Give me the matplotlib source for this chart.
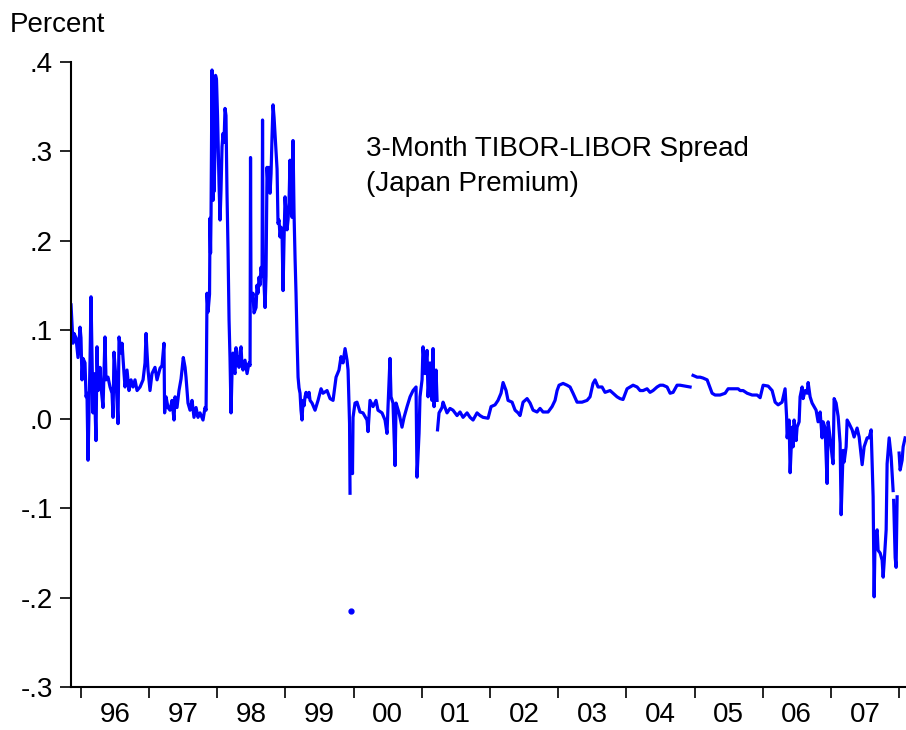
import numpy as np
import matplotlib
matplotlib.use("Agg")
import matplotlib.pyplot as plt

plt.rcParams['font.family'] = ['Liberation Sans', 'DejaVu Sans']

################################################################################
# 3-month TIBOR-LIBOR spread (decimal years, percent)
# nan marks a break in the series
nan = np.nan
dates = [
    1995.858, 1995.887, 1995.902, 1995.931, 1995.960, 1995.990, 1996.004, 1996.019,
    1996.034, 1996.063, 1996.078, 1996.092, 1996.107, 1996.136, 1996.151, 1996.180,
    1996.195, 1996.224, 1996.239, 1996.254, 1996.283, 1996.298, 1996.327, 1996.356,
    1996.371, 1996.400, 1996.430, 1996.459, 1996.474, 1996.488, 1996.518, 1996.547,
    1996.562, 1996.591, 1996.606, 1996.635, 1996.650, 1996.679, 1996.708, 1996.738,
    1996.767, 1996.796, 1996.826, 1996.870, 1996.914, 1996.943, 1996.958, 1996.972,
    1996.987, 1997.016, 1997.045, 1997.089, 1997.119, 1997.163, 1997.192, 1997.221,
    1997.230, 1997.251, 1997.280, 1997.309, 1997.339, 1997.368, 1997.383, 1997.412,
    1997.441, 1997.471, 1997.504, 1997.530, 1997.544, 1997.573, 1997.603, 1997.632,
    1997.661, 1997.691, 1997.720, 1997.749, 1997.793, 1997.823, 1997.838, 1997.852,
    1997.867, 1997.889, 1997.896, 1997.904, 1997.911, 1997.925, 1997.933, 1997.940,
    1997.948, 1997.955, 1997.969, 1997.977, 1997.991, 1998.006, 1998.020, 1998.028,
    1998.043, 1998.057, 1998.072, 1998.087, 1998.101, 1998.116, 1998.130, 1998.145,
    1998.160, 1998.175, 1998.189, 1998.204, 1998.218, 1998.233, 1998.248, 1998.263,
    1998.277, 1998.292, 1998.307, 1998.321, 1998.336, 1998.351, 1998.365, 1998.380,
    1998.409, 1998.439, 1998.468, 1998.483, 1998.490, 1998.497, 1998.512, 1998.526,
    1998.541, 1998.571, 1998.585, 1998.600, 1998.615, 1998.629, 1998.644, 1998.659,
    1998.666, 1998.673, 1998.688, 1998.703, 1998.717, 1998.732, 1998.747, 1998.761,
    1998.776, 1998.791, 1998.805, 1998.820, 1998.835, 1998.849, 1998.864, 1998.879,
    1998.893, 1998.908, 1998.923, 1998.937, 1998.952, 1998.967, 1998.981, 1998.996,
    1999.010, 1999.025, 1999.040, 1999.054, 1999.069, 1999.084, 1999.099, 1999.113,
    1999.128, 1999.143, 1999.157, 1999.172, 1999.187, 1999.201, 1999.216, 1999.230,
    1999.245, 1999.260, 1999.275, 1999.289, 1999.304, 1999.319, 1999.333, 1999.348,
    1999.363, 1999.392, 1999.436, 1999.480, 1999.524, 1999.553, 1999.612, 1999.656,
    1999.700, 1999.744, 1999.787, 1999.817, 1999.846, 1999.876, 1999.905, 1999.920,
    1999.942, 1999.949, 1999.956, 1999.964, 1999.971, 1999.978, 1999.985, 1999.993,
    2000.022, 2000.051, 2000.095, 2000.139, 2000.198, 2000.213, 2000.242, 2000.286,
    2000.330, 2000.359, 2000.418, 2000.462, 2000.491, 2000.506, 2000.535, 2000.550,
    2000.579, 2000.609, 2000.624, 2000.667, 2000.711, 2000.741, 2000.785, 2000.829,
    2000.873, 2000.917, 2000.931, 2000.961, 2000.975, 2001.005, 2001.019, 2001.049,
    2001.078, 2001.093, 2001.122, 2001.151, 2001.166, 2001.181, 2001.210, 2001.225,
    2001.228, 2001.232, 2001.254, 2001.298, 2001.313, 2001.371, 2001.415, 2001.459,
    2001.518, 2001.562, 2001.606, 2001.665, 2001.709, 2001.753, 2001.811, 2001.855,
    2001.899, 2001.973, 2002.017, 2002.075, 2002.119, 2002.163, 2002.193, 2002.237,
    2002.266, 2002.325, 2002.369, 2002.413, 2002.442, 2002.486, 2002.545, 2002.589,
    2002.633, 2002.691, 2002.735, 2002.779, 2002.853, 2002.911, 2002.955, 2002.985,
    2003.014, 2003.073, 2003.131, 2003.175, 2003.219, 2003.278, 2003.351, 2003.424,
    2003.468, 2003.512, 2003.542, 2003.586, 2003.644, 2003.688, 2003.762, 2003.806,
    2003.864, 2003.908, 2003.952, 2004.011, 2004.055, 2004.099, 2004.158, 2004.202,
    2004.246, 2004.304, 2004.348, 2004.392, 2004.451, 2004.495, 2004.539, 2004.598,
    2004.642, 2004.686, 2004.744, 2004.788, 2004.862, 2004.935, 2004.957, 2004.979,
    2005.038, 2005.082, 2005.126, 2005.185, 2005.214, 2005.258, 2005.302, 2005.375,
    2005.449, 2005.493, 2005.566, 2005.640, 2005.669, 2005.713, 2005.772, 2005.845,
    2005.918, 2005.962, 2006.006, 2006.080, 2006.138, 2006.182, 2006.226, 2006.284,
    2006.328, 2006.350, 2006.358, 2006.387, 2006.402, 2006.431, 2006.446, 2006.460,
    2006.490, 2006.504, 2006.534, 2006.548, 2006.578, 2006.592, 2006.622, 2006.651,
    2006.666, 2006.695, 2006.724, 2006.739, 2006.783, 2006.812, 2006.842, 2006.871,
    2006.886, 2006.915, 2006.944, 2006.959, 2006.988, 2007.018, 2007.032, 2007.047,
    2007.076, 2007.106, 2007.135, 2007.150, 2007.179, 2007.194, 2007.223, 2007.238,
    2007.267, 2007.311, 2007.340, 2007.384, 2007.414, 2007.458, 2007.487, 2007.531,
    2007.560, 2007.590, 2007.619, 2007.634, 2007.648, 2007.678, 2007.692, 2007.722,
    2007.751, 2007.766, 2007.780, 2007.810, 2007.824, 2007.854, 2007.883, 2007.912,
    2007.916, 2007.920, 2007.942, 2007.956, 2007.971, 2007.985, 2008.000, 2008.015,
    2008.044, 2008.059, 2008.088,
]
spread = [
    0.128, 0.085, 0.096, 0.091, 0.069, 0.103, 0.091, 0.044,
    0.068, 0.063, 0.025, 0.029, -0.046, 0.063, 0.137, 0.007,
    0.051, -0.024, 0.081, 0.032, 0.058, 0.036, 0.013, 0.092,
    0.044, 0.047, 0.036, 0.029, 0.002, 0.075, 0.044, -0.005,
    0.092, 0.074, 0.085, 0.051, 0.036, 0.055, 0.032, 0.044,
    0.036, 0.044, 0.032, 0.036, 0.044, 0.063, 0.096, 0.075,
    0.055, 0.032, 0.051, 0.058, 0.044, 0.057, 0.060, 0.085,
    0.007, 0.025, 0.013, 0.010, 0.021, -0.001, 0.025, 0.013,
    0.032, 0.045, 0.069, 0.058, 0.047, 0.018, 0.010, 0.021,
    0.002, 0.013, 0.002, 0.007, -0.001, 0.013, 0.010, 0.141,
    0.120, 0.140, 0.225, 0.186, 0.230, 0.391, 0.300, 0.245,
    0.320, 0.255, 0.300, 0.385, 0.380, 0.340, 0.290, 0.264,
    0.223, 0.256, 0.305, 0.320, 0.310, 0.348, 0.340, 0.253,
    0.190, 0.111, 0.069, 0.007, 0.050, 0.074, 0.055, 0.051,
    0.080, 0.060, 0.070, 0.058, 0.075, 0.081, 0.060, 0.055,
    0.066, 0.051, 0.063, 0.060, 0.293, 0.133, 0.135, 0.141,
    0.119, 0.125, 0.150, 0.141, 0.159, 0.150, 0.170, 0.160,
    0.335, 0.178, 0.150, 0.125, 0.160, 0.282, 0.260, 0.282,
    0.253, 0.275, 0.316, 0.352, 0.338, 0.320, 0.300, 0.280,
    0.219, 0.223, 0.204, 0.215, 0.208, 0.144, 0.200, 0.249,
    0.231, 0.212, 0.223, 0.242, 0.290, 0.256, 0.226, 0.312,
    0.230, 0.180, 0.141, 0.090, 0.047, 0.035, 0.029, 0.010,
    -0.001, 0.021, 0.015, 0.025, 0.030, 0.025, 0.025, 0.030,
    0.021, 0.018, 0.010, 0.021, 0.034, 0.029, 0.032, 0.023,
    0.021, 0.047, 0.055, 0.070, 0.063, 0.079, 0.066, 0.055,
    -0.005, -0.083, nan, -0.215, nan, -0.038, -0.061, 0.002,
    0.018, 0.019, 0.008, 0.007, -0.001, -0.014, 0.021, 0.014,
    0.021, 0.010, 0.007, -0.001, -0.016, 0.014, 0.068, 0.025,
    0.018, -0.052, 0.018, 0.007, -0.009, 0.002, 0.014, 0.025,
    0.032, 0.036, -0.065, -0.016, 0.025, 0.044, 0.081, 0.051,
    0.077, 0.025, 0.063, 0.021, 0.079, 0.014, 0.055, 0.021,
    nan, -0.012, 0.007, 0.013, 0.019, 0.007, 0.012, 0.010,
    0.004, 0.008, 0.002, 0.007, 0.002, -0.001, 0.007, 0.004,
    0.002, 0.001, 0.014, 0.016, 0.021, 0.029, 0.041, 0.032,
    0.021, 0.019, 0.010, 0.007, 0.004, 0.019, 0.023, 0.018,
    0.010, 0.008, 0.012, 0.008, 0.008, 0.014, 0.021, 0.032,
    0.038, 0.040, 0.038, 0.036, 0.029, 0.019, 0.019, 0.021,
    0.025, 0.040, 0.044, 0.036, 0.036, 0.030, 0.032, 0.029,
    0.025, 0.023, 0.022, 0.034, 0.036, 0.038, 0.036, 0.032,
    0.032, 0.034, 0.030, 0.032, 0.036, 0.038, 0.038, 0.036,
    0.029, 0.030, 0.038, 0.038, 0.037, 0.036, nan, 0.049,
    0.047, 0.047, 0.046, 0.044, 0.038, 0.029, 0.027, 0.027,
    0.029, 0.034, 0.034, 0.034, 0.032, 0.032, 0.029, 0.027,
    0.027, 0.024, 0.038, 0.037, 0.032, 0.019, 0.016, 0.019,
    0.034, 0.003, -0.021, -0.001, -0.060, -0.009, -0.031, -0.001,
    -0.024, -0.009, -0.003, 0.025, 0.036, 0.023, 0.032, 0.029,
    0.041, 0.025, 0.018, 0.016, 0.010, -0.003, 0.008, -0.021,
    -0.003, -0.010, -0.072, -0.003, -0.021, -0.042, -0.050, 0.023,
    0.018, 0.003, -0.027, -0.107, -0.035, -0.048, -0.031, -0.001,
    -0.005, -0.012, -0.020, -0.010, -0.020, -0.051, -0.031, -0.021,
    -0.021, -0.012, -0.087, -0.199, -0.132, -0.124, -0.147, -0.150,
    -0.158, -0.177, -0.161, -0.124, -0.050, -0.021, -0.042, -0.080,
    nan, -0.091, -0.155, -0.166, -0.087, nan, -0.038, -0.057,
    -0.046, -0.031, -0.021,
]

ytick_vals   = [0.4, 0.3, 0.2, 0.1, 0.0, -0.1, -0.2, -0.3]
ytick_labels = [".4", ".3", ".2", ".1", ".0", "-.1", "-.2", "-.3"]
years        = list(range(1996, 2008))
year_labels  = ["96", "97", "98", "99", "00", "01", "02", "03", "04", "05", "06", "07"]

################################################################################
dates  = np.array(dates)
spread = np.array(spread, dtype=float)

fig = plt.figure(figsize=(9.06, 7.30), dpi=100)
ax  = fig.add_axes([0.0784, 0.0589, 0.9216, 0.8562])

blue = '#0000FF'
ax.plot(dates, spread, color=blue, lw=2.3, solid_joinstyle='round')

# observations with missing values on both sides show up as dots
prev_nan = np.r_[True, np.isnan(spread[:-1])]
next_nan = np.r_[np.isnan(spread[1:]), True]
iso = ~np.isnan(spread) & prev_nan & next_nan
ax.plot(dates[iso], spread[iso], 'o', ms=3.5, color=blue)

ax.set_xlim(1995.858, 2008.101)
ax.set_ylim(-0.3, 0.4)

# y axis
ax.set_yticks(ytick_vals)
ax.set_yticklabels(ytick_labels)
ax.tick_params(axis='y', direction='out', length=8, width=1.2, pad=5, labelsize=20)

# x axis: ticks at year boundaries, labels in the middle of each year
ax.set_xticks(years + [2008])
ax.set_xticklabels([])
ax.set_xticks([y + 0.5 for y in years], minor=True)
ax.set_xticklabels(year_labels, minor=True)
ax.tick_params(axis='x', which='major', direction='out', length=8, width=1.2)
ax.tick_params(axis='x', which='minor', length=0, pad=11, labelsize=20)

for s in ['top', 'right']:
    ax.spines[s].set_visible(False)
for s in ['left', 'bottom']:
    ax.spines[s].set_linewidth(1.5)

fig.text(0.011, 0.966, "Percent", fontsize=20, va='center', ha='left')
ax.text(0.353, 0.881, "3-Month TIBOR-LIBOR Spread\n(Japan Premium)",
        transform=ax.transAxes, fontsize=20, va='top', ha='left', linespacing=1.45)

fig.savefig("out.png", dpi=100)
